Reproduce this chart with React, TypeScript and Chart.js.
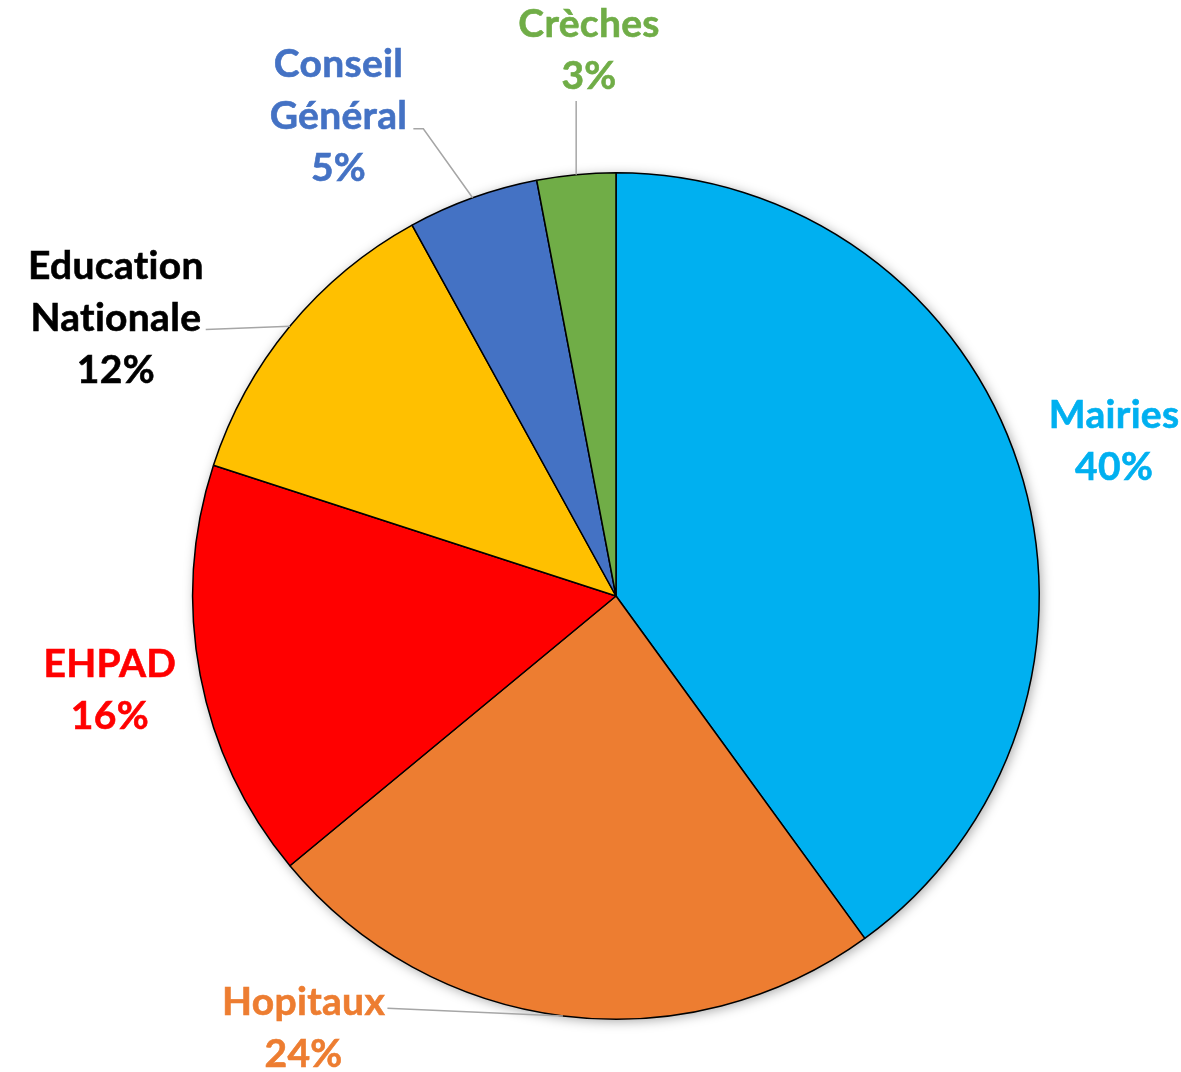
import React, { useEffect, useRef } from "react";
import { Chart, registerables } from "chart.js";

Chart.register(...registerables);

const categories = ["Mairies", "Hopitaux", "EHPAD", "Education Nationale", "Conseil Général", "Crèches"];
const values = [40, 24, 16, 12, 5, 3];
const labelLines = [["Mairies"], ["Hopitaux"], ["EHPAD"], ["Education", "Nationale"], ["Conseil", "Général"], ["Crèches"]];

const sliceColors = ["#00B0F0", "#ED7D31", "#FF0000", "#FFC000", "#4472C4", "#70AD47"];
const textColors = ["#00B0F0", "#ED7D31", "#FF0000", "#000000", "#4472C4", "#70AD47"];

// label placement relative to pie centre, in radius units (first baseline)
const labelPlacement = [
  { ox: 1.1769, oy: -0.3962 },
  { ox: -0.7382, oy: 0.9906 },
  { ox: -1.1958, oy: 0.191 },
  { ox: -1.1816, oy: -0.75 },
  { ox: -0.6557, oy: -1.2264 },
  { ox: -0.0637, oy: -1.3208 },
];
// leader lines: points in radius units, starting from slice edge midpoint
const leaders: (null | { pts: { ox?: number; oy: number }[] })[] = [
  null,
  { pts: [{ ox: -0.5401, oy: 0.974 }] },
  null,
  { pts: [{ ox: -0.9693, oy: -0.6297 }] },
  { pts: [{ ox: -0.4552, oy: -1.1038 }, { ox: -0.4788, oy: -1.1038 }] },
  { pts: [{ oy: -1.1698 }] },
];

const FONT = "bold 39px Lato";
const LINE_H = 52;

const shadowPlugin = {
  id: "pieShadow",
  beforeDatasetsDraw(chart: any) {
    const meta = chart.getDatasetMeta(0);
    const arc = meta.data[0];
    if (!arc) return;
    const { x, y, outerRadius } = arc.getProps(["x", "y", "outerRadius"], true);
    const ctx = chart.ctx;
    ctx.save();
    ctx.shadowColor = "rgba(0,0,0,0.35)";
    ctx.shadowBlur = 12;
    ctx.shadowOffsetX = 2;
    ctx.shadowOffsetY = 2;
    ctx.fillStyle = "#ffffff";
    ctx.beginPath();
    ctx.arc(x, y, outerRadius, 0, Math.PI * 2);
    ctx.fill();
    ctx.restore();
  },
};

const labelsPlugin = {
  id: "pieLabels",
  afterDatasetsDraw(chart: any) {
    const ctx = chart.ctx;
    const meta = chart.getDatasetMeta(0);
    const total = values.reduce((a, b) => a + b, 0);
    meta.data.forEach((arc: any, i: number) => {
      const { x, y, outerRadius, startAngle, endAngle } = arc.getProps(
        ["x", "y", "outerRadius", "startAngle", "endAngle"],
        true
      );
      const r = outerRadius;
      const mid = (startAngle + endAngle) / 2;
      const ex = x + Math.cos(mid) * r;
      const ey = y + Math.sin(mid) * r;
      const ld = leaders[i];
      if (ld) {
        ctx.save();
        ctx.strokeStyle = "#A6A6A6";
        ctx.lineWidth = 1.5;
        ctx.beginPath();
        ctx.moveTo(ex, ey);
        ld.pts.forEach((p) => {
          const px = p.ox === undefined ? ex : x + p.ox * r;
          const py = y + p.oy * r;
          ctx.lineTo(px, py);
        });
        ctx.stroke();
        ctx.restore();
      }
      const pl = labelPlacement[i];
      const lx = x + pl.ox * r;
      let ly = y + pl.oy * r;
      const pct = Math.round((values[i] / total) * 100) + "%";
      const lines = [...labelLines[i], pct];
      ctx.save();
      ctx.font = FONT;
      try {
        (ctx as any).letterSpacing = "0.3px";
      } catch (e) {}
      ctx.fillStyle = textColors[i];
      ctx.strokeStyle = textColors[i];
      ctx.lineWidth = 0.6;
      ctx.textAlign = "center";
      ctx.textBaseline = "alphabetic";
      lines.forEach((t) => {
        ctx.fillText(t, lx, ly);
        ctx.strokeText(t, lx, ly);
        ly += LINE_H;
      });
      ctx.restore();
    });
  },
};

export default function App() {
  const ref = useRef<HTMLCanvasElement | null>(null);
  useEffect(() => {
    if (!ref.current) return;
    const chart = new Chart(ref.current, {
      type: "pie",
      data: {
        labels: categories,
        datasets: [
          {
            data: values,
            backgroundColor: sliceColors,
            borderColor: "#000000",
            borderWidth: 1.5,
          },
        ],
      },
      options: {
        animation: false,
        responsive: false,
        layout: { padding: { left: 192, right: 141, top: 172, bottom: 52 } },
        plugins: {
          legend: { display: false },
          tooltip: { enabled: false },
        },
      },
      plugins: [shadowPlugin, labelsPlugin],
    });
    return () => chart.destroy();
  }, []);
  return (
    <div style={{ position: "fixed", left: 0, top: 0, width: 1181, height: 1072, background: "#fff" }}>
      <canvas ref={ref} width={1181} height={1072} />
    </div>
  );
}
